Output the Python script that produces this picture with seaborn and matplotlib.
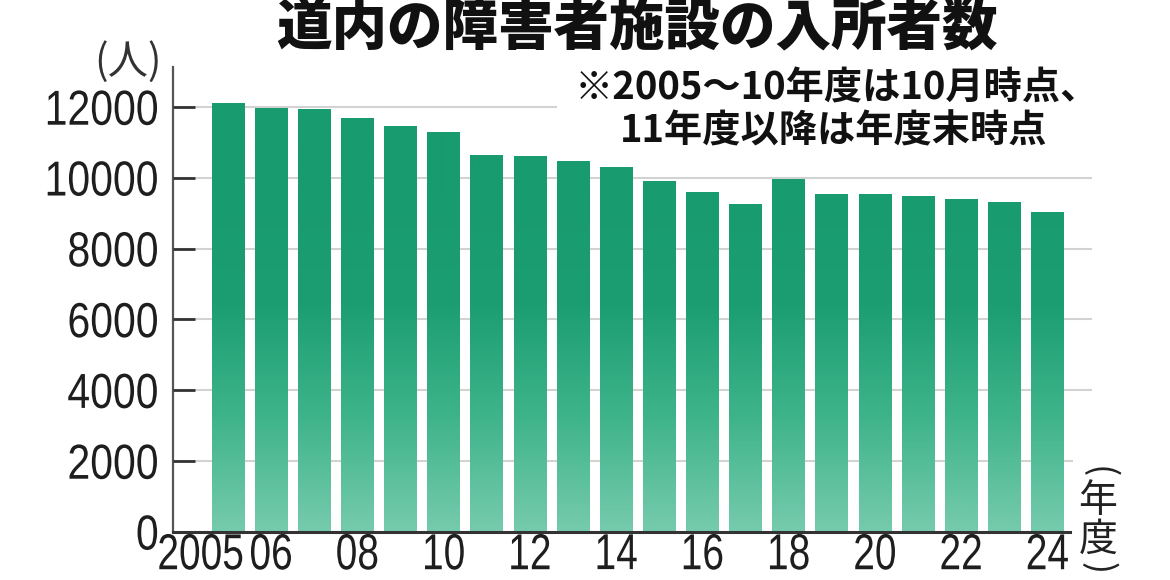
import numpy as np
import pandas as pd
import matplotlib
matplotlib.use("Agg")
import matplotlib.pyplot as plt
import matplotlib.transforms as mtrans
from matplotlib import font_manager as fm
from matplotlib.colors import LinearSegmentedColormap, Normalize
from matplotlib.patheffects import AbstractPathEffect
import seaborn as sns

# ---------------- data ----------------
years = [str(y) for y in range(2005, 2025)]
counts = [12100, 11980, 11930, 11690, 11450, 11280, 10650, 10600, 10480, 10300,
          9900, 9610, 9260, 9960, 9550, 9550, 9490, 9400, 9320, 9040]
tick_years = ["2005", "2006", "2008", "2010", "2012", "2014", "2016", "2018",
              "2020", "2022", "2024"]
tick_texts = ["2005", "06", "08", "10", "12", "14", "16", "18", "20", "22", "24"]
y_ticks = [0, 2000, 4000, 6000, 8000, 10000, 12000]

title = "道内の障害者施設の入所者数"
note1 = "※2005～10年度は10月時点、"
note2 = "11年度以降は年度末時点"
y_unit = "(人)"
x_unit_paren = ["(", ")"]
x_unit_chars = ["年", "度"]

# ---------------- style ----------------
sns.set_theme(style="white")
plt.rcParams["font.family"] = ["Noto Sans CJK JP", "DejaVu Sans"]


class Stretch(AbstractPathEffect):
    """Draw text glyphs stretched vertically (mimics a condensed typeface)."""

    def __init__(self, sy, anchor="center"):
        super().__init__()
        self.sy = sy
        self.anchor = anchor

    def draw_path(self, renderer, gc, tpath, affine, rgbFace=None):
        ext = tpath.get_extents()
        if self.anchor == "top":
            ay = ext.y1
        else:
            ay = (ext.y0 + ext.y1) / 2
        t = mtrans.Affine2D().translate(0, -ay).scale(1, self.sy).translate(0, ay)
        renderer.draw_path(gc, tpath, t + affine, rgbFace)


num_path = fm.findfont(fm.FontProperties(family="Liberation Sans"))
num_font = fm.FontProperties(fname=num_path)

W, H = 1170, 580
fig = plt.figure(figsize=(W / 100, H / 100), dpi=100)
fig.patch.set_facecolor("white")

ax_left, ax_right, ax_bottom, ax_top = 172.7, 1092, 531.7, 67
ax = fig.add_axes([ax_left / W, 1 - ax_bottom / H, (ax_right - ax_left) / W,
                   (ax_bottom - ax_top) / H])
ax.set_axisbelow(False)

df = pd.DataFrame({"year": years, "count": counts})
sns.barplot(data=df, x="year", y="count", ax=ax, color="#1a9c70",
            saturation=1, width=0.76, zorder=2)

# gradient fill for bars
cmap = LinearSegmentedColormap.from_list("g", ["#76cbad", "#3fb48b", "#1c9e72", "#189b6e"])
norm = Normalize(0, 12000)
for p in list(ax.patches):
    x0, w, h = p.get_x(), p.get_width(), p.get_height()
    Z = np.linspace(h, 0, 300).reshape(-1, 1)
    Z = np.clip(Z * 1.25, 0, 12000)
    im = ax.imshow(Z, extent=[x0, x0 + w, 0, h], cmap=cmap, norm=norm,
                   aspect="auto", zorder=2, origin="upper", interpolation="bilinear")
    im.set_clip_path(p)
    p.set_facecolor("none")
    p.set_edgecolor("none")

xpx = 43.13
xmin = -(228 - ax_left) / xpx
xmax = (ax_right - 228) / xpx
ax.set_xlim(xmin, xmax)
ax.set_ylim(0, (ax_bottom - ax_top) / 35.4 * 1000)

# gridlines (behind bars and ticks)
grid_ends = {2000: (1073 - 228) / xpx, 4000: xmax, 6000: xmax, 8000: xmax,
             10000: xmax, 12000: (557 - 228) / xpx}
for yv, xe in grid_ends.items():
    ax.hlines(yv, xmin, xe, colors="#d2d2d2", lw=1.5, zorder=0.2)

# spines
for s in ["top", "right"]:
    ax.spines[s].set_visible(False)
ax.spines["left"].set_color("#555555")
ax.spines["left"].set_linewidth(1.6)
ax.spines["bottom"].set_color("#333333")
ax.spines["bottom"].set_linewidth(2.2)
ax.spines["bottom"].set_bounds(xmin, (1070 - 228) / xpx)
ax.spines["bottom"].set_zorder(3)

ax.set_yticks(y_ticks)
ax.set_yticklabels([str(v) for v in y_ticks], fontproperties=num_font, fontsize=29.5, color="#1e1e1e")
ax.yaxis.set_tick_params(which="major", left=True, direction="in", length=16, width=2,
                         color="#333333", pad=10)
for lab in ax.get_yticklabels():
    lab.set_path_effects([Stretch(1.2, "center")])

pos = [years.index(t) for t in tick_years]
ax.set_xticks(pos)
ax.set_xticklabels(tick_texts, fontproperties=num_font, fontsize=28, color="#1e1e1e")
ax.tick_params(axis="x", bottom=False, length=0, pad=1)
for lab in ax.get_xticklabels():
    lab.set_path_effects([Stretch(1.3, "top")])
first = ax.get_xticklabels()[0]
first.set_ha("right")
first.set_transform(first.get_transform() + mtrans.ScaledTranslation(0.16, 0, fig.dpi_scale_trans))

ax.set_xlabel("")
ax.set_ylabel("")


def ptext(x, y, s, **kw):
    return fig.text(x / W, 1 - y / H, s, **kw)


ptext(637, 28, title, fontsize=40, fontweight="heavy", ha="center", va="center", color="#111111")
ptext(575, 88, note1, fontsize=27.5, fontweight="bold", ha="left", va="center", color="#111111")
ptext(620, 131, note2, fontsize=27.5, fontweight="bold", ha="left", va="center", color="#111111")
ptext(128, 62, y_unit, fontsize=29, ha="center", va="center", color="#333333")
ptext(1098, 472, x_unit_paren[0], fontsize=26, rotation=-90, ha="center", va="center", color="#222222")
ptext(1098, 501, x_unit_chars[0], fontsize=28, ha="center", va="center", color="#222222")
ptext(1098, 540, x_unit_chars[1], fontsize=28, ha="center", va="center", color="#222222")
ptext(1098, 568, x_unit_paren[1], fontsize=26, rotation=-90, ha="center", va="center", color="#222222")

fig.savefig("out.png", dpi=100, facecolor="white")
